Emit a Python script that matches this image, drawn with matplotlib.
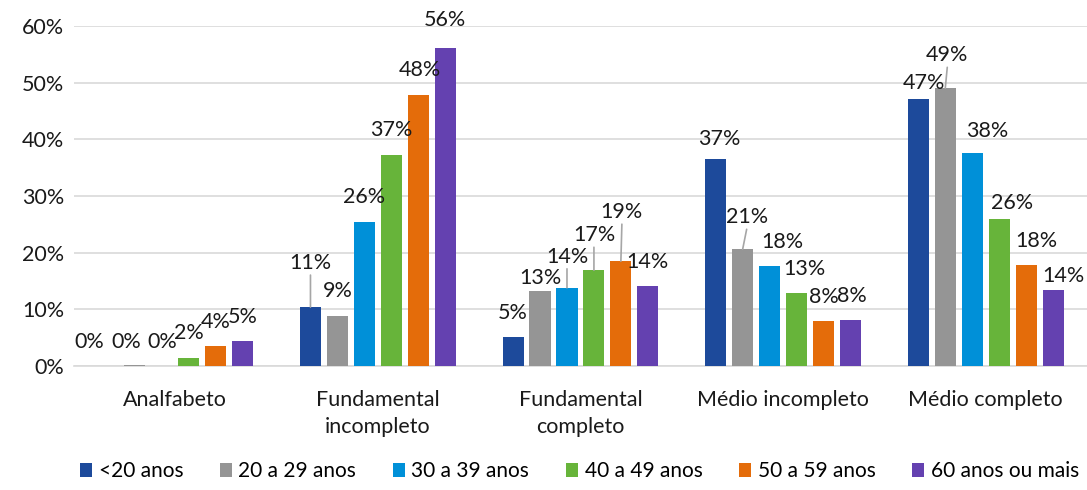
import matplotlib.pyplot as plt
import numpy as np

plt.rcParams['font.family'] = ['Lato', 'DejaVu Sans']

categories = ["Analfabeto", "Fundamental\nincompleto", "Fundamental\ncompleto",
              "Médio incompleto", "Médio completo"]
series = ["<20 anos", "20 a 29 anos", "30 a 39 anos", "40 a 49 anos",
          "50 a 59 anos", "60 anos ou mais"]
values = [
    [0.0, 10.4, 5.1, 36.6, 47.1],   # <20
    [0.2, 8.8, 13.2, 20.6, 49.0],   # 20-29
    [0.0, 25.4, 13.8, 17.7, 37.5],  # 30-39
    [1.4, 37.2, 16.9, 12.8, 25.9],  # 40-49
    [3.5, 47.8, 18.5, 8.0, 17.8],   # 50-59
    [4.4, 56.1, 14.1, 8.2, 13.4],   # 60+
]
labels = [
    ["0%", "11%", "5%", "37%", "47%"],
    ["0%", "9%", "13%", "21%", "49%"],
    ["0%", "26%", "14%", "18%", "38%"],
    ["2%", "37%", "17%", "13%", "26%"],
    ["4%", "48%", "19%", "8%", "18%"],
    ["5%", "56%", "14%", "8%", "14%"],
]
colors = ["#1D4A9B", "#959595", "#0090D8", "#67B43A", "#E46C0A", "#6441B0"]

# label offsets in pixels (dx, dy) from top centre of each bar
offsets = [
    [(-19, 24), (0, 44), (0, 24), (4, 20), (6, 16)],
    [(-9, 23), (0, 25), (0, 13), (4, 32), (2, 33)],
    [(0, 24), (0, 25), (0, 31), (13, 24), (15, 22)],
    [(0, 25), (0, 25), (0, 35), (8, 24), (13, 16)],
    [(0, 24), (2, 25), (1, 49), (0, 24), (10, 24)],
    [(0, 24), (0, 28), (0, 24), (1, 24), (10, 14)],
]

fig = plt.figure(figsize=(10.87, 4.9), dpi=100)
ax = fig.add_axes([0.068, 0.253, 0.932, 0.694])

x = np.arange(len(categories))
step = 0.133
width = 0.104
for i, s in enumerate(series):
    xs = x + (i - 2.5) * step
    bars = ax.bar(xs, np.array(values[i]) / 100, width, color=colors[i],
                  label=s, zorder=3)
    for j, b in enumerate(bars):
        bx = b.get_x() + b.get_width() / 2
        top = b.get_height()
        dx, dy = offsets[i][j]
        ax.annotate(labels[i][j], (bx, top), xytext=(dx, dy),
                    textcoords='offset pixels', ha='center', va='center',
                    fontsize=15.5, color='#1a1a1a', zorder=5)
        if dy >= 30:
            ax.annotate('', (bx, top), xytext=(dx, dy - 12),
                        textcoords='offset pixels',
                        arrowprops=dict(arrowstyle='-', color='#A6A6A6', lw=1.2,
                                        shrinkA=0, shrinkB=0), zorder=4)

ax.set_ylim(0, 0.6)
ax.set_xlim(-0.5, len(categories) - 0.5)
ax.set_yticks(np.arange(0, 0.61, 0.1))
ax.set_yticklabels([f"{int(round(v * 100))}%" for v in np.arange(0, 0.61, 0.1)])
ax.set_xticks(x)
ax.set_xticklabels(categories, linespacing=1.45)
ax.tick_params(length=0, labelsize=15.5, colors='#1a1a1a')
ax.tick_params(axis='x', pad=17)
ax.tick_params(axis='y', pad=7)
ax.grid(axis='y', color='#D9D9D9', lw=1.2, zorder=0)
for sp in ["top", "right", "left"]:
    ax.spines[sp].set_visible(False)
ax.spines["bottom"].set_color('#D9D9D9')
ax.spines["bottom"].set_linewidth(1.2)

fig.legend(loc='center', bbox_to_anchor=(0.533, 0.038), ncol=6, frameon=False,
           fontsize=15, handlelength=0.6, handleheight=0.7, handletextpad=0.3,
           columnspacing=1.75)

fig.savefig("out.png", dpi=100)
